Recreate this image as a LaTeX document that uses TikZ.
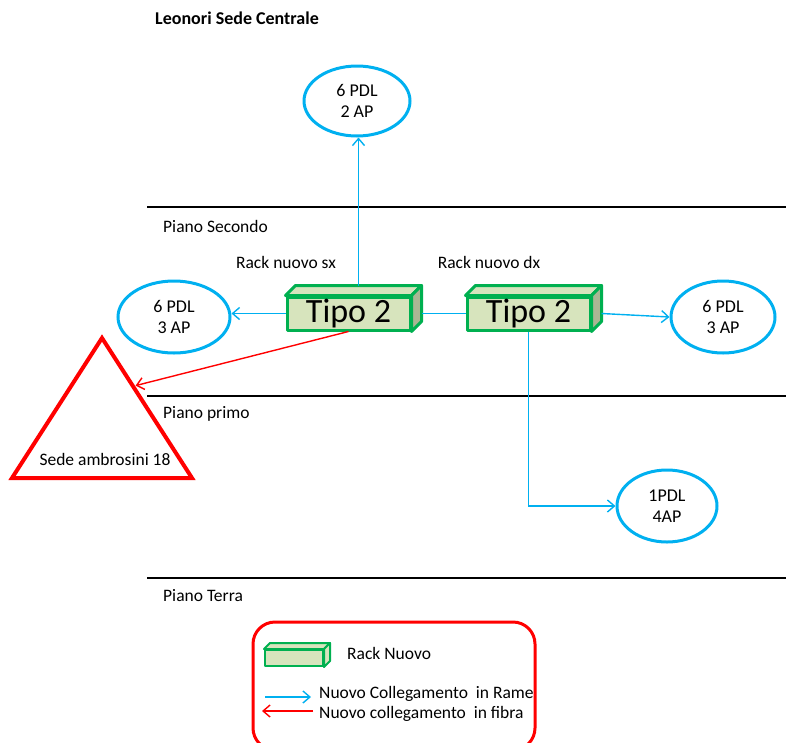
\documentclass[tikz,border=0pt]{standalone}
\usepackage{fontspec}
\setmainfont{Carlito}
\usetikzlibrary{calc}
\usetikzlibrary{positioning}
\usetikzlibrary{arrows.meta,shapes.geometric}

\definecolor{rame}{RGB}{0,176,240}
\definecolor{fibra}{RGB}{255,0,0}
\definecolor{rackline}{RGB}{0,176,80}
\definecolor{rackfill}{RGB}{215,228,189}
\definecolor{rackside}{RGB}{170,182,148}

\tikzset{
  pdl/.style={draw=rame, ellipse, line width=3pt, align=center, inner sep=0pt,
    font=\fontsize{18}{21}\selectfont},
  rackface/.style={draw=rackline, fill=rackfill, line width=3pt, line join=round,
    inner sep=0pt, font=\fontsize{34}{34}\selectfont},
  rackedge/.style={draw=rackline, line width=3pt, line join=round},
  rameline/.style={draw=rame, line width=1.4pt, -{Straight Barb[length=7pt,width=12pt]}},
  fibraline/.style={draw=fibra, line width=1.4pt, -{Straight Barb[length=7pt,width=12pt]}},
  floor/.style={line width=1.5pt},
  lbl/.style={inner sep=0pt, font=\fontsize{17.5}{20}\selectfont},
}

\begin{document}
\begin{tikzpicture}[x=1pt,y=-1pt]
  \useasboundingbox (0,0) rectangle (786,742);

  \node [lbl, anchor=west, font=\fontsize{18}{20}\selectfont\bfseries] (title) at (155,18) {Leonori Sede Centrale};

  % piani
  \draw [floor] (147,207) -- (786,207);
  \draw [floor] (147,396) -- (786,396);
  \draw [floor] (147,578) -- (786,578);
  \node [lbl, anchor=west] (p2) at (163,226) {Piano Secondo};
  \node [lbl, anchor=west] (p1) at (163,414) {Piano primo};
  \node [lbl, anchor=west] (p0) at (163,596) {Piano Terra};

  % rack
  \node [rackface, minimum width=123pt, minimum height=33pt] (sx) at (348.5,313.5) {Tipo 2};
  \node [rackface, minimum width=123pt, minimum height=33pt, right=54pt of sx] (dx) {Tipo 2};
  \foreach \r in {sx,dx} {
    \draw [rackedge, fill=rackfill] (\r.north west) -- ++(10,-10) -- ($(\r.north east)+(10,-10)$) -- (\r.north east) -- cycle;
    \draw [rackedge, fill=rackside] (\r.north east) -- ++(10,-10) -- ($(\r.south east)+(10,-10)$) -- (\r.south east) -- cycle;
  }
  \node [lbl] (sxname) at (286,262) {Rack nuovo sx};
  \node [lbl] (dxname) at (489,262) {Rack nuovo dx};

  % punti di rete
  \node [pdl, minimum width=106pt, minimum height=70pt] (top) at (357,101) {6 PDL\\2 AP};
  \node [pdl, minimum width=112pt, minimum height=72pt] (left) at (174,317) {6 PDL\\3 AP};
  \node [pdl, minimum width=104pt, minimum height=72pt] (right) at (723,317) {6 PDL\\3 AP};
  \node [pdl, minimum width=100pt, minimum height=72pt] (low) at (667,506) {1PDL\\4AP};

  % sede ambrosini
  \coordinate (apex) at (102,338);
  \coordinate (bl) at (12,478);
  \coordinate (br) at (192,478);
  \draw [fibra, line width=4pt, line join=miter] (apex) -- (br) -- (bl) -- cycle;
  \node [lbl] (ambro) at (105,459) {Sede ambrosini 18};
  \coordinate (hit) at ($(apex)!0.34!(br)+(3,0)$);

  % collegamenti
  \coordinate (sxup) at ($(sx.north)+(10,-10)$);
  \draw [rameline] (sxup) -- (sxup |- top.south);
  \draw [rameline] (sx.west) -- (sx.west -| left.east);
  \draw [rameline, -] ($(sx.east)+(10,0)$) -- (dx.west);
  \draw [rameline] ($(dx.east)+(10,0)$) -- (right.west);
  \draw [rameline] (dx.south) |- (low.west);
  \draw [fibraline] (sx.south) -- (hit);

  % legenda
  \draw [fibra, line width=3pt, rounded corners=22pt] (253,622) rectangle (535,750);
  \node [rackface, line width=2pt, minimum width=58pt, minimum height=16pt] (leg) at (294,658) {};
  \draw [rackedge, line width=2pt, fill=rackfill] (leg.north west) -- ++(6,-6) -- ($(leg.north east)+(6,-6)$) -- (leg.north east) -- cycle;
  \draw [rackedge, line width=2pt, fill=rackfill] (leg.north east) -- ++(6,-6) -- ($(leg.south east)+(6,-6)$) -- (leg.south east) -- cycle;
  \node [lbl, anchor=west] (legrack) at (347,653) {Rack Nuovo};
  \coordinate (ra) at (265,697);
  \coordinate (rb) at (311,697);
  \coordinate (fa) at (313,711);
  \coordinate (fb) at (262,711);
  \draw [rameline] (ra) -- (rb);
  \draw [fibraline] (fa) -- (fb);
  \node [lbl, anchor=west] (legrame) at (319,694) {Nuovo Collegamento\ \ in Rame};
  \node [lbl, anchor=west] (legfibra) at (319,714) {Nuovo collegamento\ \ in fibra};
\end{tikzpicture}
\end{document}
